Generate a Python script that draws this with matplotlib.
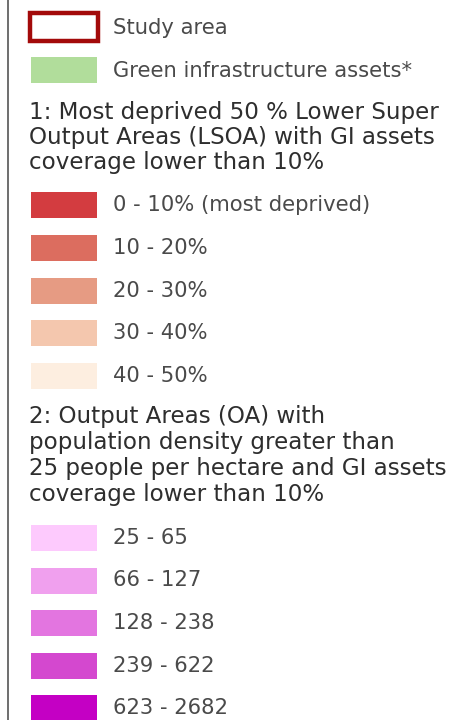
import matplotlib.pyplot as plt
from matplotlib.patches import Rectangle

# legend content
top_labels = ['Study area', 'Green infrastructure assets*']
green_color = '#b1dd9b'
study_edge = '#a30a0a'

heading1 = ['1: Most deprived 50 % Lower Super',
            'Output Areas (LSOA) with GI assets',
            'coverage lower than 10%']
lsoa_labels = ['0 - 10% (most deprived)', '10 - 20%', '20 - 30%', '30 - 40%', '40 - 50%']
lsoa_colors = ['#d33c40', '#dc6d5f', '#e69b83', '#f4c7ae', '#fdeee0']

heading2 = ['2: Output Areas (OA) with',
            'population density greater than',
            '25 people per hectare and GI assets',
            'coverage lower than 10%']
oa_labels = ['25 - 65', '66 - 127', '128 - 238', '239 - 622', '623 - 2682']
oa_colors = ['#fdcafd', '#f0a0ee', '#e375e0', '#d448cf', '#c400c4']

fig = plt.figure(figsize=(4.68, 7.2), dpi=100)
ax = fig.add_axes([0, 0, 1, 1])
ax.set_xlim(0, 468)
ax.set_ylim(720, 0)
ax.axis('off')

sw_x, sw_w, sw_h = 31, 66, 26
txt_x = 113
fs = 15.2
hfs = 16.6
label_col = '#4a4a4a'
head_col = '#2e2e2e'

# left border line
ax.plot([8, 8], [0, 720], color='#555555', lw=1.2)

# study area (outlined box)
ax.add_patch(Rectangle((sw_x - 1, 13), sw_w + 2, 28, facecolor='white',
                       edgecolor=study_edge, lw=3.2))
ax.text(txt_x, 28, top_labels[0], fontsize=fs, color=label_col, va='center')
ax.add_patch(Rectangle((sw_x, 57), sw_w, sw_h, facecolor=green_color, lw=0))
ax.text(txt_x, 71, top_labels[1], fontsize=fs, color=label_col, va='center')

for i, line in enumerate(heading1):
    ax.text(29, 112 + i * 25.3, line, fontsize=hfs, color=head_col, va='center')

for i, (lab, col) in enumerate(zip(lsoa_labels, lsoa_colors)):
    yc = 205 + i * 42.8
    ax.add_patch(Rectangle((sw_x, yc - sw_h / 2), sw_w, sw_h, facecolor=col, lw=0))
    ax.text(txt_x, yc, lab, fontsize=fs, color=label_col, va='center')

for i, line in enumerate(heading2):
    ax.text(29, 416 + i * 26, line, fontsize=hfs, color=head_col, va='center')

for i, (lab, col) in enumerate(zip(oa_labels, oa_colors)):
    yc = 538 + i * 42.5
    ax.add_patch(Rectangle((sw_x, yc - sw_h / 2), sw_w, sw_h, facecolor=col, lw=0))
    ax.text(txt_x, yc, lab, fontsize=fs, color=label_col, va='center')

fig.savefig('out.png', dpi=100, facecolor='white')
